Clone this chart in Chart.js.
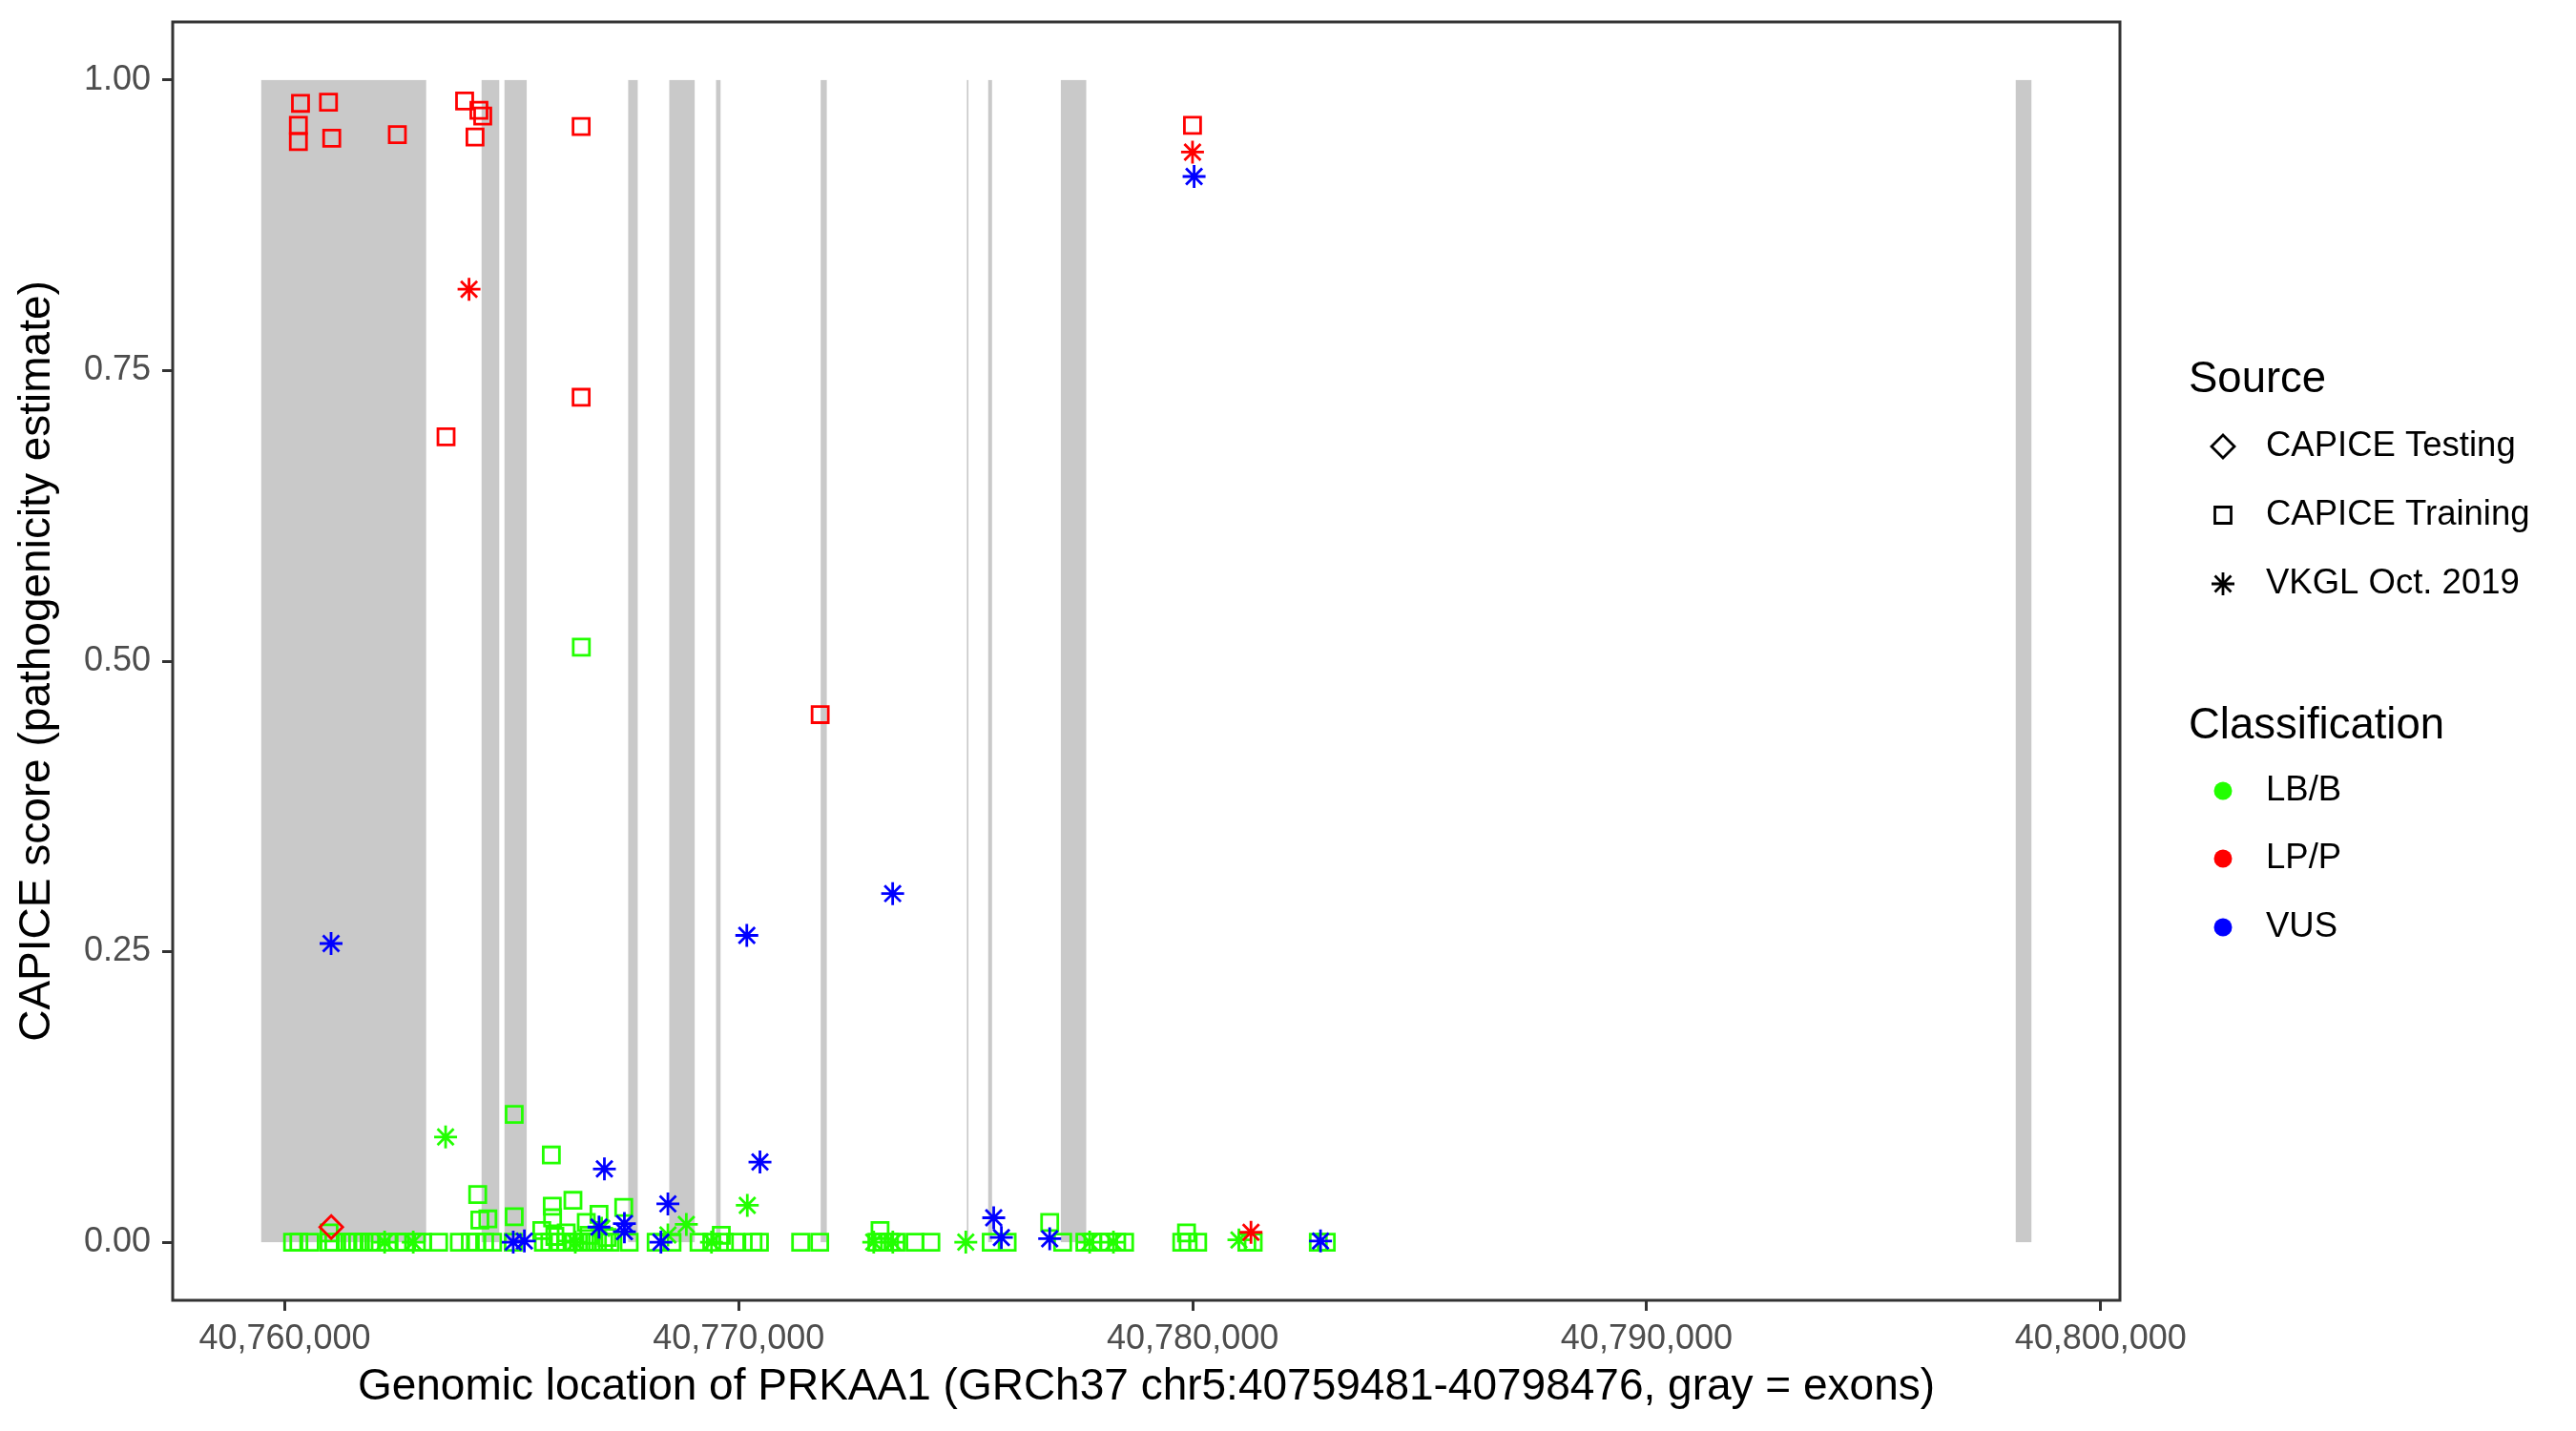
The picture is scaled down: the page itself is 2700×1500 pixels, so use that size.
<!DOCTYPE html>
<html>
<head>
<meta charset="utf-8">
<title>PRKAA1 CAPICE scores</title>
<script src="https://cdn.jsdelivr.net/npm/chart.js@4.4.1/dist/chart.umd.min.js"></script>
<style>
  html, body { margin: 0; padding: 0; background: #ffffff; }
  #wrap { width: 2700px; height: 1500px; }
</style>
</head>
<body>
<div id="wrap"><canvas id="capiceChart" width="2700" height="1500"></canvas></div>
<script>
// axis setup (genomic coordinates, chr5)
const xTicks = [40760000, 40770000, 40780000, 40790000, 40800000];
const yTicks = [0, 0.25, 0.5, 0.75, 1];
const regionStart = 40759481;
const regionEnd = 40798476;

// exons (gray bands)
const exonStart = [40759481, 40764335, 40764840, 40767565, 40768470, 40769500, 40771805, 40775025, 40775495, 40777095, 40798130];
const exonEnd   = [40763115, 40764725, 40765330, 40767775, 40769030, 40769600, 40771940, 40775060, 40775580, 40777655, 40798476];

const sourceLabels = ['CAPICE Testing', 'CAPICE Training', 'VKGL Oct. 2019'];
const classLabels = ['LB/B', 'LP/P', 'VUS'];

// CAPICE Training, LB/B
const trainBenignPos = [
  40760172, 40760311, 40760556, 40760976, 40761081, 40761360, 40761501, 40761606, 40761746, 40761885,
  40762024, 40762271, 40762481, 40762655, 40762900, 40763039, 40763389, 40763845, 40764088, 40764229,
  40764403, 40764579, 40765033, 40765698, 40765839, 40766013, 40766187, 40766328, 40766468, 40766607,
  40766748, 40766888, 40767026, 40767167, 40767587, 40768181, 40768531, 40769125, 40769406, 40769685,
  40769931, 40770315, 40770456, 40771364, 40771784, 40773043, 40773184, 40773322, 40773463, 40773883,
  40774233, 40775562, 40775913, 40777136, 40777625, 40777801, 40777976, 40778150, 40778326, 40778500,
  40779759, 40779900, 40780110, 40781193, 40781333, 40782767, 40782943,
  40766533, 40765054, 40765872, 40764250, 40766348, 40765893, 40767467, 40766922, 40765054, 40764298,
  40764474, 40765900, 40766642, 40765662, 40760976, 40769616, 40773113, 40776850, 40779864, 40765950,
  40766200, 40766700, 40767100
];
const trainBenignScore = [
  0, 0, 0, 0, 0, 0, 0, 0, 0, 0,
  0, 0, 0, 0, 0, 0, 0, 0, 0, 0,
  0, 0, 0, 0, 0, 0, 0, 0, 0, 0,
  0, 0, 0, 0, 0, 0, 0, 0, 0, 0,
  0, 0, 0, 0, 0, 0, 0, 0, 0, 0,
  0, 0, 0, 0, 0, 0, 0, 0, 0, 0,
  0, 0, 0, 0, 0, 0, 0,
  0.512, 0.110, 0.075, 0.041, 0.036, 0.031, 0.030, 0.024, 0.022, 0.019,
  0.020, 0.021, 0.017, 0.010, 0.008, 0.006, 0.010, 0.017, 0.008, 0.005,
  0.008, 0.006, 0.004
];

// CAPICE Training, LP/P
const trainPathoPos = [40760347, 40760963, 40760300, 40760300, 40761035, 40762480, 40763962, 40764277, 40764361, 40764191, 40766529, 40766529, 40763553, 40771794, 40779996];
const trainPathoScore = [0.980, 0.981, 0.961, 0.947, 0.950, 0.953, 0.982, 0.974, 0.969, 0.951, 0.960, 0.727, 0.693, 0.454, 0.961];

// CAPICE Testing, LP/P
const testPathoPos = [40761024];
const testPathoScore = [0.013];

// VKGL, LB/B
const vkglBenignPos = [40763543, 40768846, 40768440, 40770189, 40762200, 40762830, 40766400, 40769400, 40772974, 40773394, 40775002, 40777730, 40778254, 40781018, 40766980];
const vkglBenignScore = [0.0905, 0.0153, 0.0063, 0.0317, 0, 0, 0, 0, 0, 0, 0, 0, 0, 0.002, 0.012];

// VKGL, LP/P
const vkglPathoPos = [40764059, 40779996, 40781284];
const vkglPathoScore = [0.820, 0.938, 0.0085];

// VKGL, VUS
const vkglVusPos = [40780031, 40773391, 40770178, 40761020, 40770468, 40767041, 40768440, 40775617, 40767482, 40767482, 40766922, 40765033, 40765278, 40768286, 40775786, 40776850, 40782816];
const vkglVusScore = [0.917, 0.300, 0.264, 0.257, 0.069, 0.063, 0.033, 0.021, 0.016, 0.009, 0.013, 0.000, 0.001, 0.000, 0.004, 0.003, 0.001];

const GREEN = '#22FF00';
const RED = '#FF0000';
const BLUE = '#0000FF';
const FONT = '"Liberation Sans", Arial, Helvetica, sans-serif';

function toPoints(pos, score) {
    return pos.map((x, i) => ({ x: x, y: score[i] }));
}

function commas(v) {
    return String(Math.round(v)).replace(/\B(?=(\d{3})+(?!\d))/g, ',');
}

function series(label, pos, score, color, style) {
    return {
        label: label,
        data: toPoints(pos, score),
        pointStyle: style,
        pointRadius: 12,
        pointBorderWidth: 2.8,
        pointBorderColor: color,
        pointBackgroundColor: 'rgba(0,0,0,0)',
        showLine: false
    };
}

// gray exon bands, drawn behind the points
const exonPlugin = {
    id: 'exons',
    beforeDatasetsDraw(chart) {
        const {ctx, scales: {x, y}} = chart;
        const top = y.getPixelForValue(1);
        const bottom = y.getPixelForValue(0);
        ctx.save();
        ctx.fillStyle = '#C9C9C9';
        exonStart.forEach((s, i) => {
            const x0 = x.getPixelForValue(s);
            const x1 = x.getPixelForValue(exonEnd[i]);
            ctx.fillRect(x0, top, Math.max(x1 - x0, 1.5), bottom - top);
        });
        ctx.restore();
    }
};

// panel border like theme_bw
const borderPlugin = {
    id: 'panelBorder',
    afterDatasetsDraw(chart) {
        const {ctx, chartArea: a} = chart;
        ctx.save();
        ctx.strokeStyle = '#333333';
        ctx.lineWidth = 3;
        ctx.strokeRect(a.left, a.top, a.right - a.left, a.bottom - a.top);
        ctx.restore();
    }
};

// two-group legend on the right (shape + colour)
const legendPlugin = {
    id: 'ggLegend',
    afterDraw(chart) {
        const ctx = chart.ctx;
        const keyX = 2330, textX = 2375, titleX = 2294;
        ctx.save();
        ctx.textBaseline = 'middle';
        ctx.textAlign = 'left';
        ctx.fillStyle = '#000';

        ctx.font = '45.5px ' + FONT;
        ctx.fillText('Source', titleX, 398);
        ctx.fillText('Classification', titleX, 761);

        const shapeRows = [468, 540, 612];
        const shapes = ['rectRot', 'rect', 'star'];
        ctx.font = '36.5px ' + FONT;
        sourceLabels.forEach((lab, i) => {
            ctx.fillStyle = '#000';
            ctx.fillText(lab, textX, shapeRows[i]);
            ctx.strokeStyle = '#000';
            ctx.fillStyle = 'rgba(0,0,0,0)';
            ctx.lineWidth = 2.8;
            Chart.helpers.drawPoint(ctx, {pointStyle: shapes[i], radius: 12, borderWidth: 2.8, rotation: 0}, keyX, shapeRows[i]);
        });

        const colorRows = [829, 900, 972];
        const colors = [GREEN, RED, BLUE];
        classLabels.forEach((lab, i) => {
            ctx.fillStyle = '#000';
            ctx.fillText(lab, textX, colorRows[i]);
            ctx.beginPath();
            ctx.fillStyle = colors[i];
            ctx.arc(keyX, colorRows[i], 9.5, 0, Math.PI * 2);
            ctx.fill();
        });
        ctx.restore();
    }
};

function initChart() {
    const ctx = document.getElementById('capiceChart');
    Chart.defaults.font.family = FONT;

    const pad = (regionEnd - regionStart) * 0.05;

    new Chart(ctx, {
        type: 'scatter',
        data: {
            // first dataset is drawn on top
            datasets: [
                series('VKGL Oct. 2019 / VUS', vkglVusPos, vkglVusScore, BLUE, 'star'),
                series('VKGL Oct. 2019 / LP/P', vkglPathoPos, vkglPathoScore, RED, 'star'),
                series('CAPICE Testing / LP/P', testPathoPos, testPathoScore, RED, 'rectRot'),
                series('CAPICE Training / LP/P', trainPathoPos, trainPathoScore, RED, 'rect'),
                series('VKGL Oct. 2019 / LB/B', vkglBenignPos, vkglBenignScore, GREEN, 'star'),
                series('CAPICE Training / LB/B', trainBenignPos, trainBenignScore, GREEN, 'rect')
            ]
        },
        options: {
            responsive: false,
            devicePixelRatio: 1,
            animation: false,
            events: [],
            layout: { padding: { left: 0, right: 478, top: 23, bottom: 0 } },
            plugins: { legend: { display: false }, tooltip: { enabled: false } },
            scales: {
                x: {
                    type: 'linear',
                    min: regionStart - pad,
                    max: regionEnd + pad,
                    afterBuildTicks: (scale) => { scale.ticks = xTicks.map(v => ({ value: v })); },
                    afterFit: (scale) => { scale.height = 137; scale.paddingLeft = 0; scale.paddingRight = 0; },
                    grid: { drawOnChartArea: false, drawTicks: true, tickLength: 11, tickColor: '#333333', tickWidth: 3 },
                    border: { display: false },
                    ticks: {
                        autoSkip: false, maxRotation: 0, padding: 8,
                        color: '#4D4D4D', font: { size: 36 },
                        callback: (v) => commas(v)
                    },
                    title: {
                        display: true,
                        text: 'Genomic location of PRKAA1 (GRCh37 chr5:40759481-40798476, gray = exons)',
                        color: '#000000',
                        font: { size: 46, lineHeight: 1 },
                        padding: { top: 0, bottom: 23 }
                    }
                },
                y: {
                    type: 'linear',
                    min: -0.05,
                    max: 1.05,
                    afterBuildTicks: (scale) => { scale.ticks = yTicks.map(v => ({ value: v })); },
                    afterFit: (scale) => { scale.width = 181; scale.paddingTop = 0; scale.paddingBottom = 0; },
                    grid: { drawOnChartArea: false, drawTicks: true, tickLength: 11, tickColor: '#333333', tickWidth: 3 },
                    border: { display: false },
                    ticks: {
                        padding: 12, color: '#4D4D4D', font: { size: 36 },
                        callback: (v) => Number(v).toFixed(2)
                    },
                    title: {
                        display: true,
                        text: 'CAPICE score (pathogenicity estimate)',
                        color: '#000000',
                        font: { size: 46, lineHeight: 1 },
                        padding: { top: 16, bottom: 0 }
                    }
                }
            }
        },
        plugins: [exonPlugin, borderPlugin, legendPlugin]
    });
}

document.addEventListener('DOMContentLoaded', initChart);
</script>
</body>
</html>
